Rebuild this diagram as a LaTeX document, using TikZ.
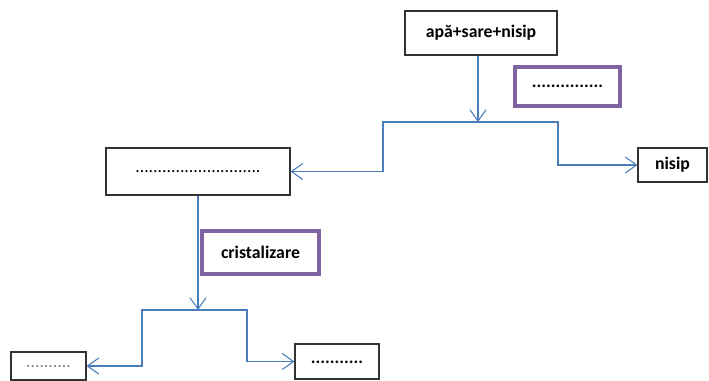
\documentclass[tikz,border=0pt]{standalone}
\usepackage{fontspec}
\setmainfont{Carlito}
\usetikzlibrary{arrows.meta,positioning,calc}

\definecolor{linkblue}{HTML}{4A7EBB}
\definecolor{stagepurple}{HTML}{8064A2}

\begin{document}
\begin{tikzpicture}[x=0.75pt, y=-0.75pt,
  >=Stealth, font=\bfseries\fontsize{13.3}{16}\selectfont,
  box/.style={draw=black!80, line width=0.8pt, fill=white, inner sep=0pt},
  stage/.style={draw=stagepurple, line width=2.6pt, fill=white, inner sep=0pt},
  flow/.style={-{Straight Barb[length=8.5pt, width=12pt, line width=0.8pt]}, line width=0.8pt, draw=linkblue},
]
\useasboundingbox (0,0) rectangle (709,381);

% ============ TOP: mixture and first separation ============
\node[box, minimum width=152*0.75pt, minimum height=44*0.75pt] (feed) at (481,33) {apă+sare+nisip\hspace{6pt}};
\node[stage, minimum width=105*0.75pt, minimum height=39*0.75pt] (stepA) at (567.5,86.5) {...............};

\node[box, minimum width=184*0.75pt, minimum height=47*0.75pt] (filtrat) at (198,171.5)
  {\mdseries ............................\hspace{10pt}};
\node[box, minimum width=69*0.75pt, minimum height=34*0.75pt] (nisip) at (672.5,165) {nisip};

\coordinate (splitA) at ($(feed.south |- 0,122)+(-3,0)$);
\draw[flow] (splitA |- feed.south) -- (splitA);
\draw[flow] (splitA) -- ++(-95,0) |- (filtrat.east);
\draw[flow] (splitA) -- ++(80,0) |- (nisip.west);

% ============ BOTTOM: second separation ============
\node[stage, minimum width=117*0.75pt, minimum height=43*0.75pt] (stepB) at (260.5,252.5) {cristalizare};

\node[box, minimum width=75*0.75pt, minimum height=28*0.75pt] (sare) at (48.5,366)
  {\mdseries\color{black!50}\raisebox{-3pt}{..........}};
\node[box, minimum width=84*0.75pt, minimum height=35*0.75pt] (apa) at (337,361.5)
  {\raisebox{-3pt}{...........}};

\coordinate (splitB) at (filtrat.south |- 0,310);
\draw[flow] (filtrat.south) -- (splitB);
\draw[flow] (splitB) -- ++(-56,0) |- (sare.east);
\draw[flow] (splitB) -- ++(49,0) |- (apa.west);

\end{tikzpicture}
\end{document}
